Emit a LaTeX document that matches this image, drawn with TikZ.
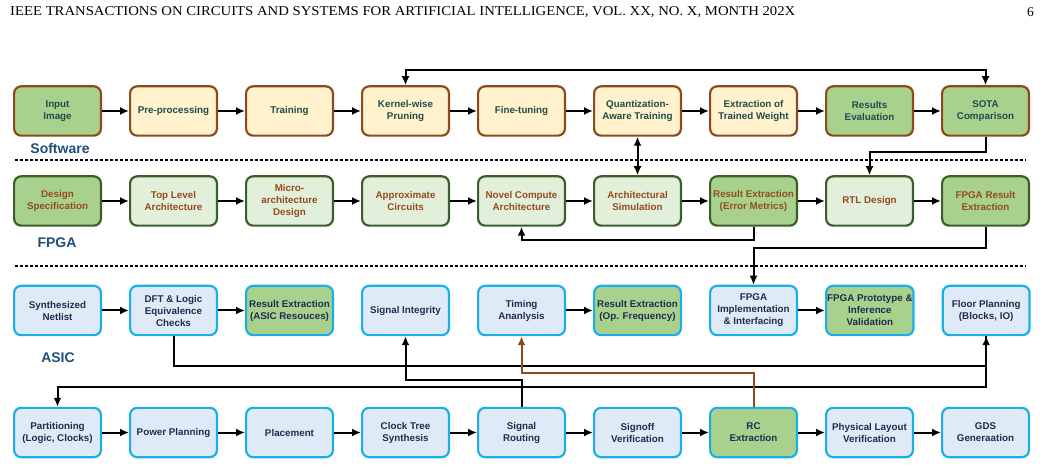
\documentclass[tikz,border=0pt]{standalone}
\usepackage{fontspec}
\setmainfont{Liberation Serif}
\setsansfont{Liberation Sans}
\usetikzlibrary{positioning, arrows.meta}
\definecolor{swfill}{HTML}{FFF2CC}
\definecolor{swline}{HTML}{8C4A1E}
\definecolor{swtext}{HTML}{1E4D4A}
\definecolor{resfill}{HTML}{A9D18E}
\definecolor{fpgafill}{HTML}{E2EFDA}
\definecolor{fpgaline}{HTML}{3B5E2B}
\definecolor{fpgatext}{HTML}{964B1E}
\definecolor{asicfill}{HTML}{DEEBF7}
\definecolor{asicline}{HTML}{1AAFE8}
\definecolor{asictext}{HTML}{1F2D50}
\definecolor{flowtext}{HTML}{1F4E79}
\definecolor{rcline}{HTML}{8C4A1E}
\tikzset{
	stage/.style={draw, rounded corners=7pt, line width=2.2pt, minimum width=86.8pt, minimum height=49.3pt, inner sep=1pt, align=center, font=\sffamily\bfseries\fontsize{9.8}{12}\selectfont},
	swbox/.style={stage, draw=swline, fill=swfill, text=swtext},
	swres/.style={stage, draw=swline, fill=resfill, text=swtext},
	fpgabox/.style={stage, draw=fpgaline, fill=fpgafill, text=fpgatext},
	fpgares/.style={stage, draw=fpgaline, fill=resfill, text=fpgatext},
	asicbox/.style={stage, draw=asicline, fill=asicfill, text=asictext},
	asicres/.style={stage, draw=asicline, fill=resfill, text=asictext},
	% flow names under the first box of each row
	flowname/.style={inner sep=0pt, font=\sffamily\bfseries\fontsize{14}{16}\selectfont, text=flowtext},
	divider/.style={line width=2.2pt, dash pattern=on 3pt off 2pt}
}
\begin{document}
\begin{tikzpicture}[x=1pt, y=1pt]
	\useasboundingbox (0,0) rectangle (1041,466);
	\node (head) [anchor=west, inner sep=0pt, font=\fontsize{13.5}{15}\selectfont] at (10,454) {\scalebox{1.09}[1]{IEEE TRANSACTIONS ON CIRCUITS AND SYSTEMS FOR ARTIFICIAL INTELLIGENCE, VOL. XX, NO. X, MONTH 202X}};
	\node (page) [anchor=east, inner sep=0pt, font=\fontsize{13.5}{15}\selectfont] at (1034,454) {6};
	
	% software flow
	\node (img) [swres] at (57.5,355) {Input\\Image};
	\node (pre) [swbox, right=27pt of img] {Pre-processing};
	\node (train) [swbox, right=27pt of pre] {Training};
	\node (prune) [swbox, right=27pt of train] {Kernel-wise\\Pruning};
	\node (tune) [swbox, right=27pt of prune] {Fine-tuning};
	\node (qat) [swbox, right=27pt of tune] {Quantization-\\Aware Training};
	\node (wgt) [swbox, right=27pt of qat] {Extraction of\\Trained Weight};
	\node (eval) [swres, right=27pt of wgt] {Results\\Evaluation};
	\node (sota) [swres, right=27pt of eval] {SOTA\\Comparison};
	\node (swlab) [flowname] at (60,318) {Software};
	
	\draw[divider] (15,306) -- (1026,306);
	
	% fpga flow
	\node (spec) [fpgares] at (57.5,265) {Design\\Specification};
	\node (top) [fpgabox, right=27pt of spec] {Top Level\\Architecture};
	\node (micro) [fpgabox, right=27pt of top] {Micro-\\architecture\\Design};
	\node (approx) [fpgabox, right=27pt of micro] {Approximate\\Circuits};
	\node (novel) [fpgabox, right=27pt of approx] {Novel Compute\\Architecture};
	\node (asim) [fpgabox, right=27pt of novel] {Architectural\\Simulation};
	\node (rerr) [fpgares, right=27pt of asim] {Result Extraction\\(Error Metrics)};
	\node (rtl) [fpgabox, right=27pt of rerr] {RTL Design};
	\node (fres) [fpgares, right=27pt of rtl] {FPGA Result\\Extraction};
	\node (fplab) [flowname] at (57,223) {FPGA};
	
	\draw[divider] (15,200) -- (1026,200);
	
	% asic flow, upper row
	\node (net) [asicbox] at (57.5,155.5) {Synthesized\\Netlist};
	\node (dft) [asicbox, right=27pt of net] {DFT \& Logic\\Equivalence\\Checks};
	\node (rres) [asicres, right=27pt of dft] {Result Extraction\\(ASIC Resouces)};
	\node (sint) [asicbox, right=27pt of rres] {Signal Integrity};
	\node (tim) [asicbox, right=27pt of sint] {Timing\\Ananlysis};
	\node (rfreq) [asicres, right=27pt of tim] {Result Extraction\\(Op. Frequency)};
	\node (impl) [asicbox, right=27pt of rfreq] {FPGA\\Implementation\\\& Interfacing};
	\node (proto) [asicres, right=27pt of impl] {FPGA Prototype \&\\Inference\\Validation};
	\node (floor) [asicbox, right=27pt of proto] {Floor Planning\\(Blocks, IO)};
	\node (aslab) [flowname] at (58,108) {ASIC};
	
	% asic flow, lower row
	\node (part) [asicbox] at (57.5,33.5) {Partitioning\\(Logic, Clocks)};
	\node (power) [asicbox, right=27pt of part] {Power Planning};
	\node (place) [asicbox, right=27pt of power] {Placement};
	\node (cts) [asicbox, right=27pt of place] {Clock Tree\\Synthesis};
	\node (route) [asicbox, right=27pt of cts] {Signal\\Routing};
	\node (sign) [asicbox, right=27pt of route] {Signoff\\Verification};
	\node (rc) [asicres, right=27pt of sign] {RC\\Extraction};
	\node (phys) [asicbox, right=27pt of rc] {Physical Layout\\Verification};
	\node (gds) [asicbox, right=27pt of phys] {GDS\\Generaation};
	
	\begin{scope}[line width=2pt, black, ->, >={Latex[length=9pt, width=8pt]}]
		\draw (img) -- (pre);
		\draw (pre) -- (train);
		\draw (train) -- (prune);
		\draw (prune) -- (tune);
		\draw (tune) -- (qat);
		\draw (qat) -- (wgt);
		\draw (wgt) -- (eval);
		\draw (eval) -- (sota);
		\draw[<->] (prune.north) -- ++(0,15) -| (sota.north);
		\draw[<->] (qat) -- (asim);
		\draw (sota.south) -- ++(0,-15) -| (rtl.north);
		
		\draw (spec) -- (top);
		\draw (top) -- (micro);
		\draw (micro) -- (approx);
		\draw (approx) -- (novel);
		\draw (novel) -- (asim);
		\draw (asim) -- (rerr);
		\draw (rerr) -- (rtl);
		\draw (rtl) -- (fres);
		\draw (rerr.south) -- ++(0,-13) -| (novel.south);
		\draw (fres.south) -- ++(0,-21) -| (impl.north);
		
		\draw (net) -- (dft);
		\draw (dft) -- (rres);
		\draw (tim) -- (rfreq);
		\draw (impl) -- (proto);
		\draw (dft.south) -- ++(0,-30) -| (floor.south);
		\draw (floor.south) -- ++(0,-51) -| (part.north);
		
		\draw (part) -- (power);
		\draw (power) -- (place);
		\draw (place) -- (cts);
		\draw (cts) -- (route);
		\draw (route) -- (sign);
		\draw (sign) -- (rc);
		\draw (rc) -- (phys);
		\draw (phys) -- (gds);
		\draw (route.north) -- ++(0,27) -| (sint.south);
		\draw[rcline] (rc.north) -- ++(0,34) -| (tim.south);
	\end{scope}
\end{tikzpicture}
\end{document}
